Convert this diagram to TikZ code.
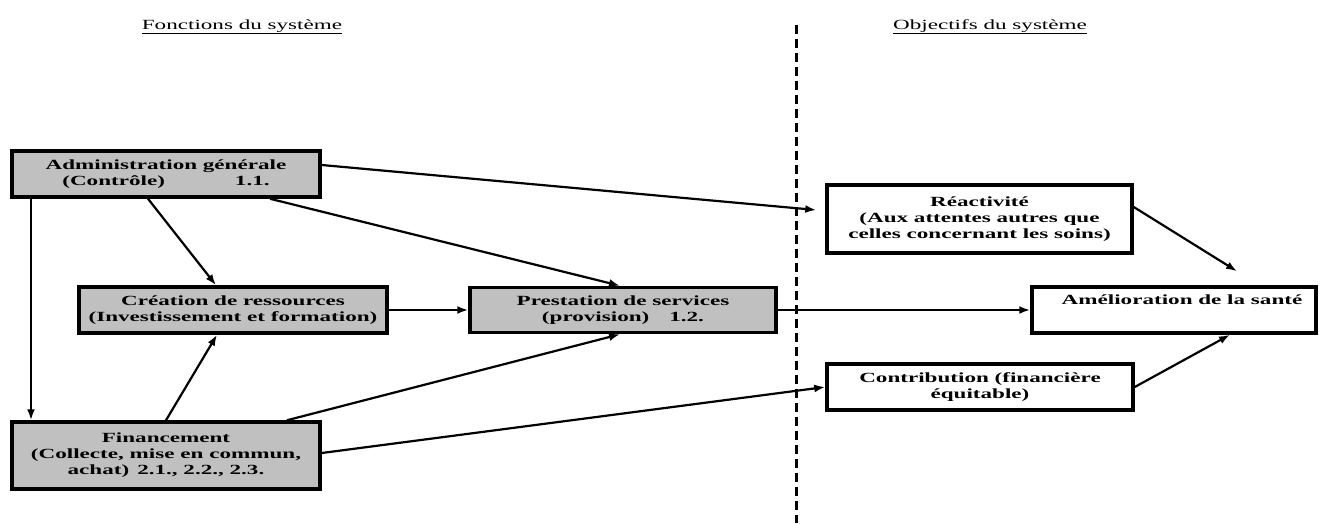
\documentclass[tikz,border=0pt]{standalone}
\usepackage{fontspec}
\setmainfont[FakeStretch=1.65]{Liberation Serif}
\usetikzlibrary{arrows.meta}
\definecolor{boxgray}{RGB}{192,192,192}
\tikzset{
  fbox/.style={draw=black, line width=3.5pt, fill=boxgray, align=center, inner sep=0pt,
    font=\fontsize{14}{16}\selectfont\bfseries},
  obox/.style={fbox, fill=white},
  arr/.style={line width=2.2pt, -{Latex[length=11pt,width=8pt]}},
  title/.style={font=\fontsize{14}{16}\selectfont, anchor=base, inner sep=0pt},
  sep/.style={line width=3pt, dash pattern=on 9pt off 5pt}
}
\begin{document}
\begin{tikzpicture}[x=1pt,y=-1pt]
\useasboundingbox (0,0) rectangle (1322,523);

\node[title] (t1) at (242,29) {\underline{Fonctions du système}};
\node[title] (t2) at (990,29) {\underline{Objectifs du système}};

\coordinate (dtop) at (796,25);
\coordinate (dbot) at (796,523);
\draw[sep] (dtop) -- (dbot);

\node[fbox, minimum width=308pt, minimum height=46pt] (admin) at (166,174)
  {Administration générale\\(Contrôle)\hspace{70pt}1.1.};
\node[fbox, minimum width=308pt, minimum height=46pt] (creat) at (233,310)
  {Création de ressources\\(Investissement et formation)};
\node[fbox, minimum width=306pt, minimum height=45pt] (prest) at (623,310)
  {Prestation de services\\(provision)\hspace{20pt}1.2.};
\node[fbox, minimum width=308pt, minimum height=67pt] (fin) at (166,455.5)
  {Financement\\(Collecte, mise en commun,\\achat)\hspace{8pt}2.1., 2.2., 2.3.};
\node[obox, minimum width=305pt, minimum height=68pt] (reac) at (979.5,219)
  {Réactivité\\(Aux attentes autres que\\celles concernant les soins)};
\node[obox, minimum width=284pt, minimum height=46pt] (amel) at (1174,310)
  {\hspace{16pt}Amélioration de la santé\\\strut};
\node[obox, minimum width=306pt, minimum height=46pt] (contrib) at (980,387)
  {Contribution (financière\\équitable)};

\draw[arr] ([yshift=9pt]admin.east) -- ([xshift=-9pt,yshift=9pt]reac.west);
\draw[arr] ([xshift=104pt]admin.south) -- ([xshift=-3pt]prest.north);
\draw[arr] ([xshift=-18pt]admin.south) -- ([xshift=-17pt]creat.north);
\draw[arr] ([xshift=-135pt]admin.south) -- ([xshift=-135pt]fin.north);
\draw[arr] (creat.east) -- (prest.west);
\draw[arr] (fin.north) -- ([xshift=-16pt]creat.south);
\draw[arr] ([xshift=121pt]fin.north) -- ([xshift=-3pt]prest.south);
\draw[arr] ([yshift=2.5pt]fin.east) -- (contrib.west);
\draw[arr] (prest.east) -- (amel.west);
\draw[arr] ([yshift=12pt]reac.east) -- ([xshift=63pt,yshift=14pt]amel.north);
\draw[arr] (contrib.east) -- ([xshift=56pt]amel.south);
\end{tikzpicture}
\end{document}
